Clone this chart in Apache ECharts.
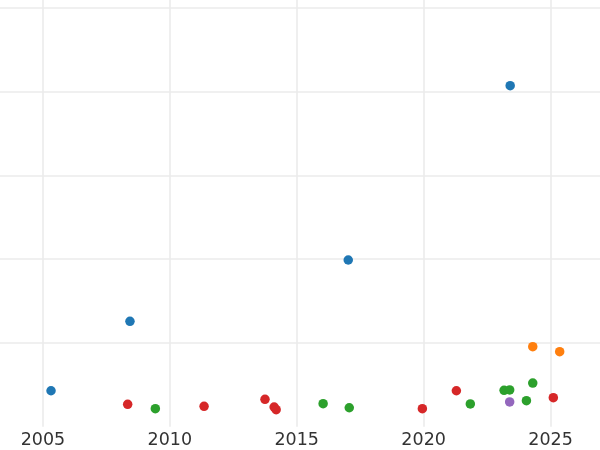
<!DOCTYPE html>
<html>
<head>
<meta charset="utf-8">
<script src="https://cdn.jsdelivr.net/npm/echarts@6/dist/echarts.min.js"></script>
<style>html,body{margin:0;padding:0;background:#fff;overflow:hidden;width:600px;height:450px;position:relative}
#c{position:absolute;left:-87px;top:0;width:687px;height:450px}</style>
</head>
<body>
<div id="c"></div>
<script>
// x tick labels (years) and series data [year, value]
var xTicks = [2005, 2010, 2015, 2020, 2025];
var blueData = [[2005.32, 43.0], [2008.43, 125.9], [2017.03, 199.1], [2023.41, 407.2]];
var redData = [[2008.34, 26.8], [2011.35, 24.4], [2013.75, 32.8], [2014.11, 23.6], [2014.19, 20.4], [2019.95, 21.6], [2021.29, 43.0], [2025.11, 34.7]];
var greenData = [[2009.43, 21.6], [2016.04, 27.5], [2017.07, 22.7], [2021.84, 27.2], [2023.17, 43.5], [2023.39, 43.9], [2024.05, 31.1], [2024.30, 52.2]];
var orangeData = [[2024.30, 95.6], [2025.36, 89.6]];
var purpleData = [[2023.39, 29.6]];

var chart = echarts.init(document.getElementById('c'), null, {renderer: 'canvas'});
function s(name, data, color) {
  return {name: name, type: 'scatter', data: data, symbolSize: 9.5,
    itemStyle: {color: color, opacity: 1}, z: 3};
}
chart.setOption({
  animation: false,
  backgroundColor: '#ffffff',
  grid: {left: 0.5, right: 0, top: 0, bottom: 23.25, containLabel: false},
  xAxis: {
    type: 'value', min: 2000, max: 2026.949, interval: 5,
    axisLine: {show: false}, axisTick: {show: false},
    axisLabel: {show: true, margin: 5, fontSize: 17.5, color: '#333333', fontFamily: 'DejaVu Sans',
      formatter: function (v) { return xTicks.indexOf(v) >= 0 ? String(v) : ''; },
      showMaxLabel: false},
    splitLine: {show: true, showMaxLine: false, lineStyle: {color: '#ebebeb', width: 1.6}}
  },
  yAxis: {
    type: 'value', min: 0, max: 509.55, interval: 100,
    axisLine: {show: false}, axisTick: {show: false}, axisLabel: {show: false},
    splitLine: {show: true, showMinLine: false, showMaxLine: false, lineStyle: {color: '#ebebeb', width: 1.6}}
  },
  series: [
    s('blue', blueData, '#1f77b4'),
    s('red', redData, '#d62728'),
    s('green', greenData, '#2ca02c'),
    s('orange', orangeData, '#ff7f0e'),
    s('purple', purpleData, '#9467bd')
  ]
});
</script>
</body>
</html>
